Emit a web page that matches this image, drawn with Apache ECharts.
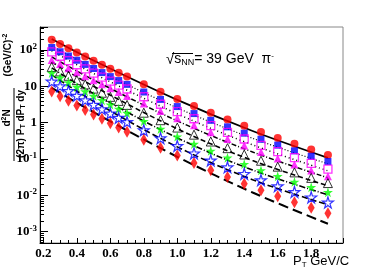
<!DOCTYPE html>
<html><head><meta charset="utf-8">
<script src="https://cdn.jsdelivr.net/npm/echarts@6/dist/echarts.min.js"></script>
<style>html,body{margin:0;padding:0;background:#fff}#c{width:382px;height:273px}</style>
</head><body><div id="c"></div>
<script>
// ---- data ----
const pT = [0.25,0.30,0.35,0.40,0.45,0.50,0.55,0.60,0.65,0.70,0.80,0.90,1.00,1.10,1.20,1.30,1.40,1.50,1.60,1.70,1.80,1.90];
const redCircle = [192,146,112,85.5,65.7,50.7,39.2,30.5,23.7,18.5,11.4,7.13,4.51,2.89,1.87,1.23,0.82,0.553,0.378,0.262,0.184,0.130];
const blueSquare = [117,89.2,68.1,52.1,40.0,30.9,23.9,18.5,14.4,11.3,6.97,4.36,2.77,1.78,1.16,0.767,0.514,0.349,0.241,0.168,0.119,0.0853];
const magentaOpenSquare = [88.1,67.1,51.2,39.2,30.1,23.2,17.9,13.9,10.8,8.43,5.17,3.21,2.02,1.28,0.826,0.538,0.355,0.237,0.160,0.109,0.0755,0.0528];
const magentaTriangle = [53.1,40.8,31.4,24.3,18.8,14.6,11.4,8.86,6.93,5.43,3.37,2.11,1.33,0.849,0.547,0.356,0.234,0.156,0.104,0.0708,0.0484,0.0335];
const blackOpenTriangle = [34.1,25.7,19.5,14.8,11.3,8.65,6.65,5.13,3.97,3.08,1.88,1.17,0.733,0.468,0.303,0.199,0.133,0.0897,0.0616,0.0429,0.0303,0.0218];
const greenStar = [23.3,17.3,12.9,9.63,7.23,5.46,4.14,3.15,2.41,1.85,1.10,0.671,0.415,0.261,0.168,0.109,0.0725,0.049,0.0337,0.0236,0.0168,0.0122];
const blueOpenStar = [13.6,10.1,7.48,5.57,4.17,3.14,2.37,1.80,1.37,1.05,0.621,0.375,0.231,0.144,0.0919,0.0595,0.0393,0.0264,0.018,0.0125,0.00886,0.00639];
const redDiamond = [7.24,5.37,4.00,2.99,2.24,1.69,1.28,0.970,0.740,0.567,0.337,0.203,0.125,0.0778,0.0494,0.0318,0.0209,0.0139,0.00943,0.0065,0.00455,0.00324];

const fitPT = [0.25,0.5,1.0,1.45,1.9];
const fit1 = [200,51.2,4.23,0.591,0.108];
const fit2 = [128.8,31.6,2.55,0.371,0.0738];
const fit3 = [93.9,22.5,1.75,0.245,0.0474];
const fit4 = [64.3,15.0,1.12,0.156,0.0305];
const fit5 = [46.8,10.07,0.676,0.091,0.0184];
const fit6 = [32.0,6.34,0.382,0.0499,0.0104];
const fit7 = [20.6,3.87,0.216,0.027,0.00552];
const fit8 = [9.04,1.94,0.115,0.012,0.00166];

const xTickLabels = ['0.2','0.4','0.6','0.8','1.0','1.2','1.4','1.6','1.8'];
const yTickValues = [0.001,0.01,0.1,1,10,100];

// ---- chart ----
const zip = (xs, ys) => xs.map((x, i) => [x, ys[i]]);
const STAR = 'path://M50,0 L61,35 L98,35 L68,57 L79,91 L50,70 L21,91 L32,57 L2,35 L39,35 Z';
const chart = echarts.init(document.getElementById('c'), null, {renderer: 'canvas'});

function marker(data, symbol, size, fill, stroke, bw) {
  return {type: 'scatter', data: zip(pT, data), symbol, symbolSize: size, z: 5,
    itemStyle: {color: fill, borderColor: stroke, borderWidth: bw}, silent: true};
}
function fit(data, type, width) {
  return {type: 'line', data: zip(fitPT, data), showSymbol: false, smooth: 0.35, z: 3, silent: true,
    lineStyle: {color: '#000', width: width, type: type}};
}

const option = {
  animation: false,
  grid: {left: 40, top: 27, right: 39, bottom: 30, show: true, borderColor: '#888', borderWidth: 1},
  xAxis: {
    type: 'value', min: 0.18, max: 1.99, splitNumber: 9,
    axisLine: {lineStyle: {color: '#000', width: 1}},
    axisTick: {inside: true, length: 5, lineStyle: {color: '#000'}},
    minorTick: {show: true, splitNumber: 4, length: 3, lineStyle: {color: '#000'}},
    splitLine: {show: false},
    axisLabel: {showMinLabel: false, showMaxLabel: false, margin: 4,
      fontFamily: 'Liberation Serif', fontWeight: 'bold', fontSize: 13, color: '#000',
      formatter: v => { const s = v.toFixed(1); return xTickLabels.includes(s) ? s : ''; }}
  },
  yAxis: {
    type: 'log', logBase: 10, min: 0.00049, max: 428,
    axisLine: {lineStyle: {color: '#000', width: 1}},
    axisTick: {inside: true, length: 8, lineStyle: {color: '#000'}},
    minorTick: {show: true, splitNumber: 9, length: 4, lineStyle: {color: '#000'}},
    splitLine: {show: false},
    axisLabel: {showMinLabel: false, showMaxLabel: false, margin: 3,
      fontFamily: 'Liberation Serif', fontWeight: 'bold', fontSize: 13, color: '#000',
      formatter: v => {
        const match = yTickValues.find(t => Math.abs(Math.log10(t) - Math.log10(v)) < 1e-6);
        if (match === undefined) return '';
        const e = Math.round(Math.log10(match));
        if (e === 0) return '1';
        if (e === 1) return '10';
        return '10{s|' + e + '}';
      },
      rich: {s: {fontSize: 9, fontFamily: 'Liberation Serif', fontWeight: 'bold', verticalAlign: 'top', padding: [0, 0, 7, 0]}}
    }
  },
  series: [
    fit(fit1, 'solid', 1.8),
    fit(fit2, [1, 2], 1.2),
    fit(fit3, [1, 3], 1.5),
    fit(fit4, [5, 2, 1, 2], 1.5),
    fit(fit5, [5, 3], 1.6),
    fit(fit6, [6, 2, 1, 2], 1.6),
    fit(fit7, [6, 3], 1.6),
    fit(fit8, [10, 5], 2),
    marker(redCircle, 'circle', 8, '#ff0000', '#ff0000', 0),
    marker(blueSquare, 'rect', 7, '#0000ff', '#0000ff', 0),
    marker(magentaOpenSquare, 'rect', 8, 'rgba(0,0,0,0)', '#ff00ff', 1.3),
    marker(magentaTriangle, 'triangle', 8, '#ff00ff', '#ff00ff', 0),
    marker(blackOpenTriangle, 'triangle', 9, 'rgba(0,0,0,0)', '#000', 1),
    marker(greenStar, STAR, 10, '#00ff00', '#00ff00', 0),
    marker(blueOpenStar, STAR, 11, 'rgba(0,0,0,0)', '#0000ff', 1.2),
    marker(redDiamond, 'diamond', [7, 12], '#ff0000', '#ff0000', 0)
  ],
  graphic: [
    // energy / particle label
    {type: 'text', left: 166, top: 52, z: 10, silent: true,
      style: {text: '{a|√}{b|s}{c|NN}{b|= 39 GeV  π}{d|-}', fill: '#000',
        rich: {
          a: {fontFamily: 'Liberation Sans', fontSize: 15, fill: '#000'},
          b: {fontFamily: 'Liberation Sans', fontSize: 14, fill: '#000'},
          c: {fontFamily: 'Liberation Sans', fontSize: 9, fill: '#000', verticalAlign: 'bottom', padding: [6, 0, 0, 0]},
          d: {fontFamily: 'Liberation Sans', fontSize: 8, fill: '#000', verticalAlign: 'top', padding: [0, 0, 6, 0]}
        }}},
    {type: 'line', z: 10, silent: true, shape: {x1: 172, y1: 53.5, x2: 193, y2: 53.5}, style: {stroke: '#000', lineWidth: 1}},
    // x axis title
    {type: 'text', left: 293, top: 255, silent: true,
      style: {text: '{p|P}{t|T}{p| GeV/C}', fill: '#000',
        rich: {p: {fontFamily: 'Liberation Sans', fontSize: 13, fill: '#000'},
               t: {fontFamily: 'Liberation Sans', fontSize: 8, fill: '#000', verticalAlign: 'bottom', padding: [7, 0, 0, 0]}}}},
    // y axis title (rotated)
    {type: 'text', x: 13, y: 118, rotation: Math.PI / 2, silent: true,
      style: {text: '{n|d}{s|2}{n|N}', align: 'center', verticalAlign: 'bottom', fill: '#000',
        rich: {n: {fontFamily: 'Liberation Sans', fontWeight: 'bold', fontSize: 10, fill: '#000'},
               s: {fontFamily: 'Liberation Sans', fontWeight: 'bold', fontSize: 7, fill: '#000', verticalAlign: 'top', padding: [0, 0, 5, 0]}}}},
    {type: 'line', silent: true, shape: {x1: 14, y1: 88, x2: 14, y2: 161}, style: {stroke: '#000', lineWidth: 1}},
    {type: 'text', x: 15, y: 124, rotation: Math.PI / 2, silent: true,
      style: {text: '{n|(2π) P}{t|T}{n| dP}{t|T}{n| dy}', align: 'center', verticalAlign: 'top', fill: '#000',
        rich: {n: {fontFamily: 'Liberation Sans', fontWeight: 'bold', fontSize: 10, fill: '#000'},
               t: {fontFamily: 'Liberation Sans', fontWeight: 'bold', fontSize: 7, fill: '#000', verticalAlign: 'bottom', padding: [5, 0, 0, 0]}}}},
    {type: 'text', x: 14, y: 55, rotation: Math.PI / 2, silent: true,
      style: {text: '{n|(GeV/C)}{s|-2}', align: 'center', verticalAlign: 'bottom', fill: '#000',
        rich: {n: {fontFamily: 'Liberation Sans', fontWeight: 'bold', fontSize: 10, fill: '#000'},
               s: {fontFamily: 'Liberation Sans', fontWeight: 'bold', fontSize: 7, fill: '#000', verticalAlign: 'top', padding: [0, 0, 5, 0]}}}}
  ]
};
chart.setOption(option);
</script>
</body></html>
